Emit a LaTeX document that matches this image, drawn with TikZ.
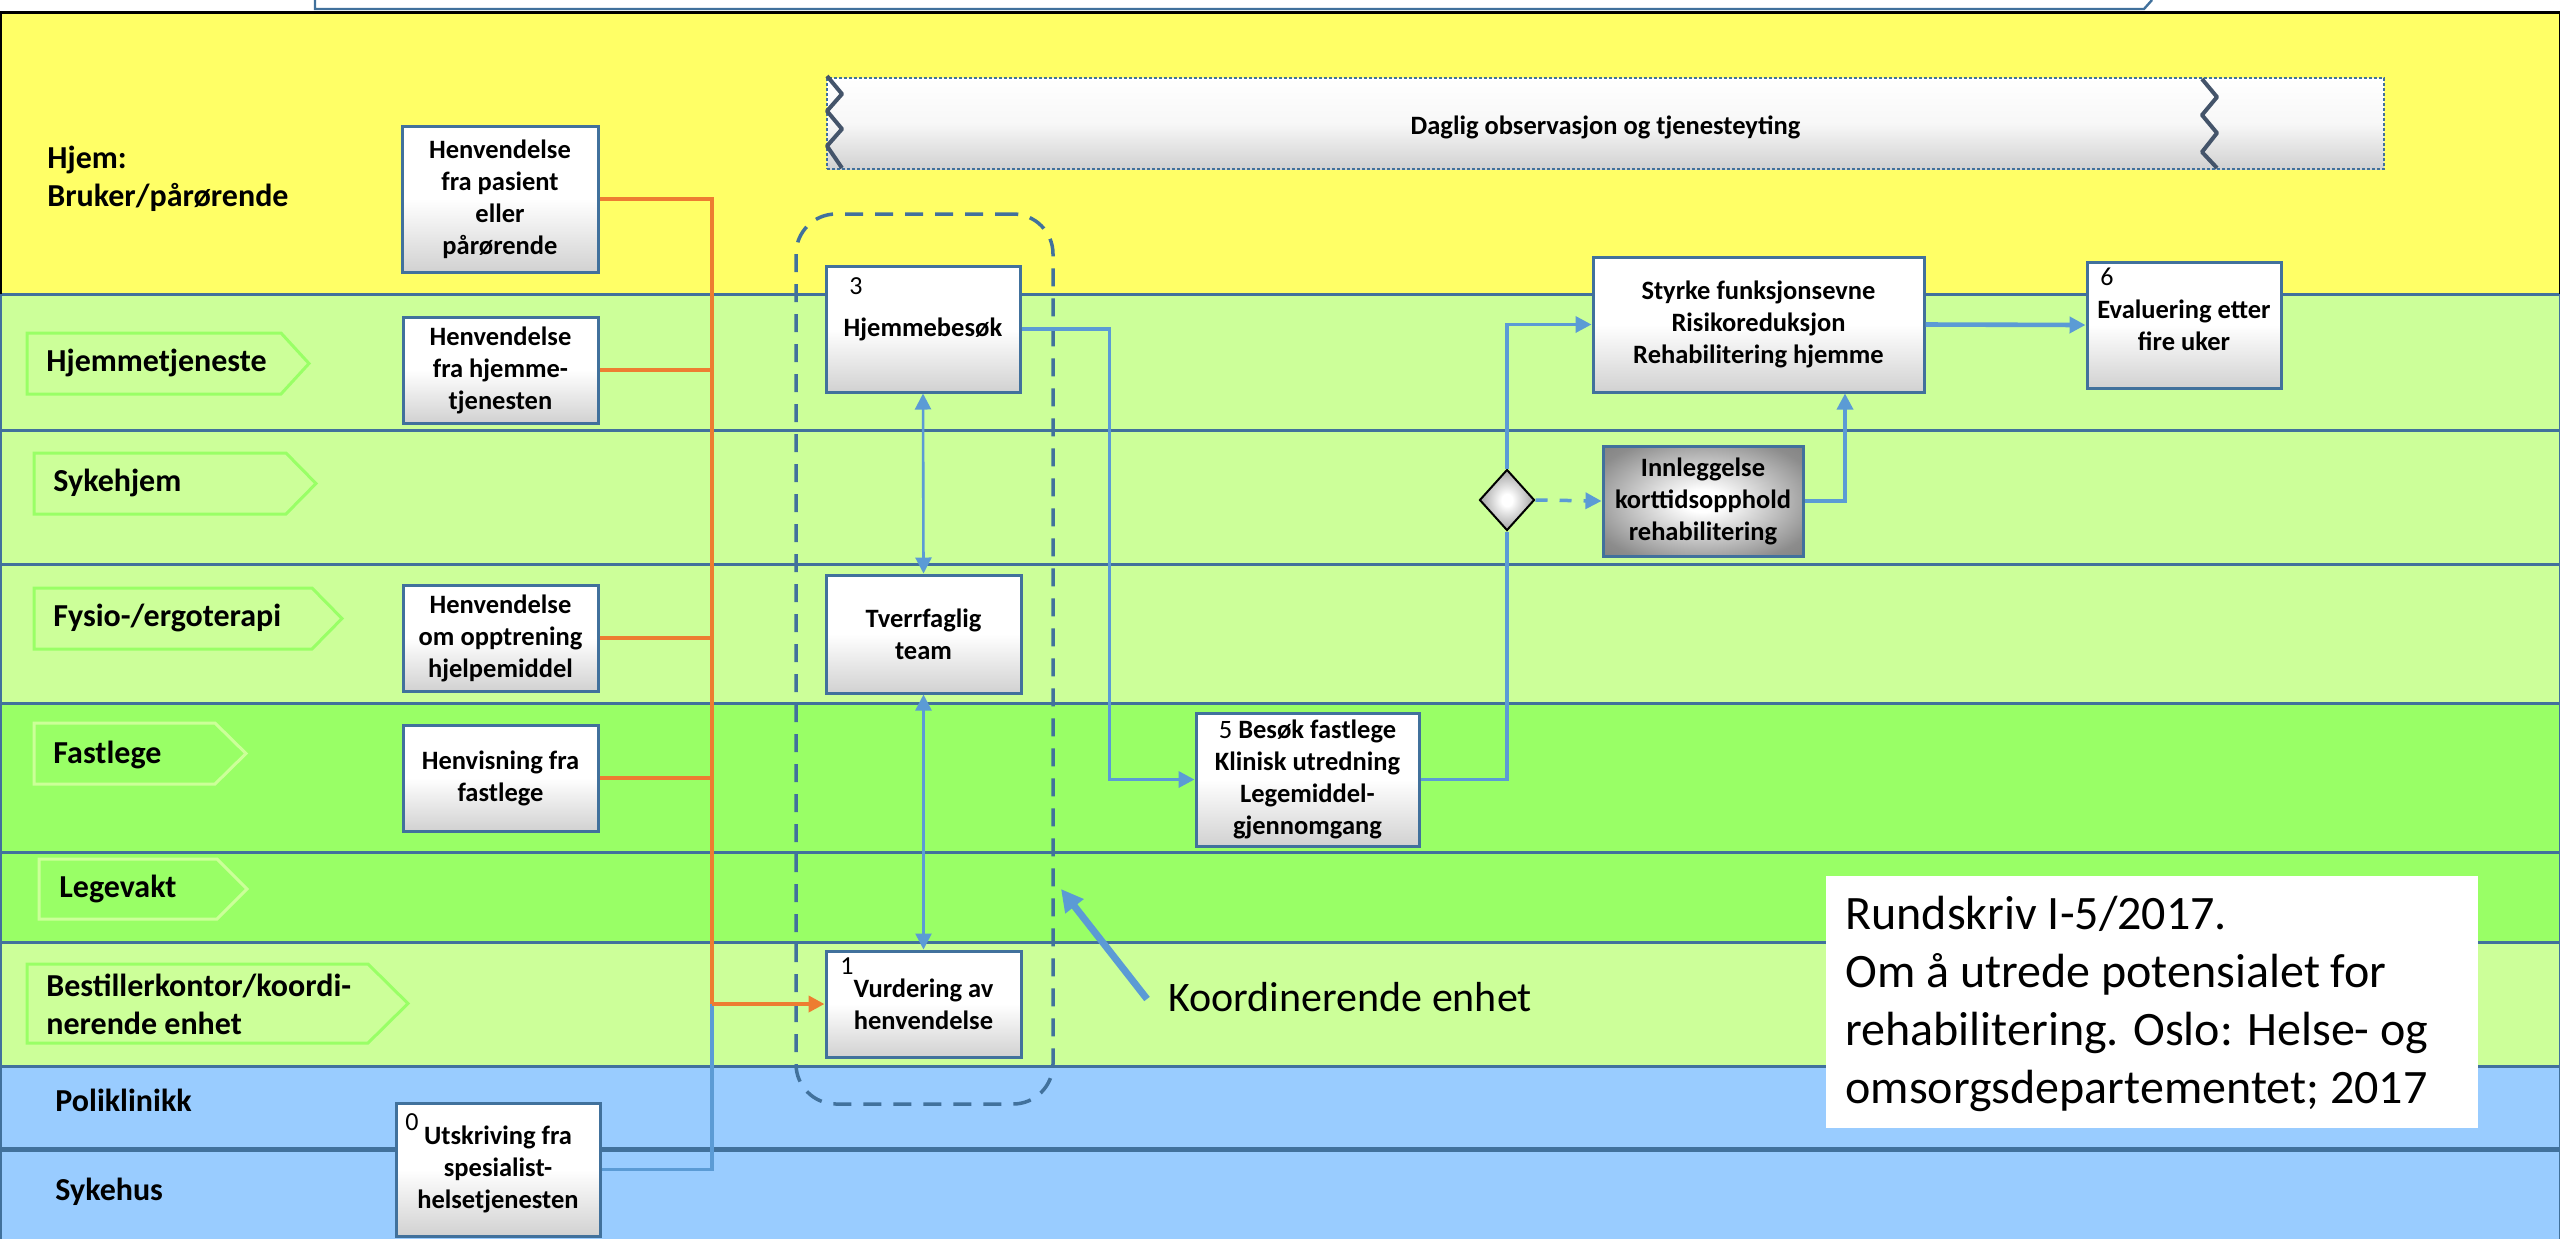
\documentclass[tikz,border=0pt]{standalone}
\usepackage{fontspec}
\setmainfont{Carlito}
\usetikzlibrary{arrows.meta,shapes.geometric}
\definecolor{cyel}{RGB}{255,255,102}
\definecolor{clgr}{RGB}{204,255,153}
\definecolor{cmgr}{RGB}{153,255,102}
\definecolor{clbl}{RGB}{153,204,255}
\definecolor{cbd}{RGB}{65,113,156}
\definecolor{corg}{RGB}{237,125,49}
\definecolor{ccon}{RGB}{91,155,213}
\definecolor{czig}{RGB}{68,84,106}
\pgfdeclareradialshading{glowsh}{\pgfpointorigin}{color(0bp)=(white); color(5bp)=(white); color(30bp)=(black!45); color(50bp)=(black!58)}
\tikzset{
  pbox/.style={draw=cbd, line width=1.5pt, top color=white, bottom color=black!18, middle color=white, inner sep=2pt, align=center, font=\fontsize{13.25}{16}\selectfont\bfseries},
  numlbl/.style={inner sep=0pt, font=\fontsize{13}{16}\selectfont},
  lanelbl/.style={inner sep=0pt, anchor=west, align=left, font=\fontsize{16}{19}\selectfont\bfseries},
  chevron/.style={line width=1.5pt},
  lanesep/.style={draw=cbd, line width=1.5pt},
  oline/.style={draw=corg, line width=2pt},
  bline/.style={draw=ccon, line width=1.75pt},
  arrowend/.style={-{Triangle[length=8pt,width=8pt]}},
}
\begin{document}
\begin{tikzpicture}[x=0.5pt,y=-0.5pt]
\useasboundingbox (0,0) rectangle (2560,1239);
% lanes
\fill[white] (0,0) rectangle (2560,12);
\fill[cyel] (0,12) rectangle (2560,294);
\fill[clgr] (0,294) rectangle (2560,703);
\fill[cmgr] (0,703) rectangle (2560,942);
\fill[clgr] (0,942) rectangle (2560,1066);
\fill[clbl] (0,1066) rectangle (2560,1239);
\foreach \yy in {294,430,564,703,852,942,1066} \draw[lanesep] (0,\yy) -- (2560,\yy);
\draw[cbd, line width=2.5pt] (0,1149) -- (2560,1149);
\draw[black, line width=1.5pt] (0,12) -- (2560,12);
\draw[black, line width=1pt] (0.5,12) -- (0.5,294) (2559.5,12) -- (2559.5,294);
\draw[cbd, line width=1pt] (0.5,294) -- (0.5,1239) (2559.5,294) -- (2559.5,1239);
\draw[cbd, line width=1.2pt] (315,0) -- (315,9) -- (2144,9) -- (2152,0);
% chevrons
\draw[chevron, draw=cmgr] (27,333) -- (281,333) -- (309,363.5) -- (281,394) -- (27,394) -- cycle;
\draw[chevron, draw=cmgr] (34,453) -- (286,453) -- (316,483.5) -- (286,514) -- (34,514) -- cycle;
\draw[chevron, draw=cmgr] (34,588) -- (312,588) -- (342,618.5) -- (312,649) -- (34,649) -- cycle;
\draw[chevron, draw=clgr] (34,723) -- (215,723) -- (246,753.5) -- (215,784) -- (34,784) -- cycle;
\draw[chevron, draw=clgr] (39,859) -- (217,859) -- (247,889) -- (217,919) -- (39,919) -- cycle;
\draw[chevron, draw=cmgr] (27,964) -- (368,964) -- (408,1003.5) -- (368,1043) -- (27,1043) -- cycle;
% lane labels
\node[lanelbl] (lhjem) at (47,179) {Hjem:\\Bruker/pårørende};
\node[lanelbl] (lhjt) at (46,363) {Hjemmetjeneste};
\node[lanelbl] (lsyk) at (53,483) {Sykehjem};
\node[lanelbl] (lfys) at (53,618) {Fysio-/ergoterapi};
\node[lanelbl] (lfast) at (53,755) {Fastlege};
\node[lanelbl] (lleg) at (59,889) {Legevakt};
\node[lanelbl] (lbest) at (46,1004) {Bestillerkontor/koordi-\\nerende enhet};
\node[lanelbl] (lpol) at (55,1100) {Poliklinikk};
\node[lanelbl] (lsh) at (55,1192) {Sykehus};
% daily observation band
\node[draw=cbd, line width=1.2pt, dash pattern=on 1.5pt off 1pt, top color=white, bottom color=black!18, middle color=white!97!black, minimum width=778.5pt, minimum height=45.5pt, inner sep=0pt, text height=10.5pt, text depth=0pt, font=\fontsize{13.25}{16}\selectfont\bfseries] (daglig) at (1605.5,123.5) {Daglig observasjon og tjenesteyting};
\draw[czig, line width=2pt, line join=round] (827,76) -- (842,94) -- (827,111) -- (842,129) -- (827,146) -- (842,168);
\draw[czig, line width=2pt, line join=round] (2202,79) -- (2217,97) -- (2202,115) -- (2217,133) -- (2202,152) -- (2217,168);
% coordinating unit group
\node[draw=cbd, line width=1.75pt, dash pattern=on 9pt off 6pt, rounded corners=20pt, minimum width=128.5pt, minimum height=445pt, inner sep=0pt] (kgroup) at (924.5,659) {};
% boxes
\node[pbox, minimum width=98pt, minimum height=73pt] (bpas) at (500,199) {Henvendelse\\fra pasient\\eller\\pårørende};
\node[pbox, minimum width=97.5pt, minimum height=53pt] (bhjt) at (500.5,370) {Henvendelse\\fra hjemme-\\tjenesten};
\node[pbox, minimum width=97.5pt, minimum height=53pt] (bfys) at (500.5,638) {Henvendelse\\om opptrening\\hjelpemiddel};
\node[pbox, minimum width=97.5pt, minimum height=53pt] (bfast) at (500.5,778) {Henvisning fra\\fastlege};
\node[pbox, minimum width=102pt, minimum height=66.5pt] (b0) at (498,1169.5) {Utskriving fra\\spesialist-\\helsetjenesten};
\node[numlbl] (n0) at (412,1122) {0};
\node[pbox, minimum width=97pt, minimum height=63pt] (b3) at (923,329) {Hjemmebesøk};
\node[numlbl] (n3) at (856,286) {3};
\node[pbox, minimum width=97.5pt, minimum height=59pt] (bt) at (923.5,634) {Tverrfaglig\\team};
\node[pbox, minimum width=97.5pt, minimum height=53pt] (b1) at (923.5,1004) {Vurdering av\\henvendelse};
\node[numlbl] (n1) at (847,966) {1};
\node[pbox, minimum width=111.5pt, minimum height=66.5pt] (b5) at (1307.5,779.5) {{\mdseries 5} Besøk fastlege\\Klinisk utredning\\Legemiddel-\\gjennomgang};
\node[pbox, minimum width=165.5pt, minimum height=67.5pt] (bs) at (1758.5,324.5) {Styrke funksjonsevne\\Risikoreduksjon\\Rehabilitering hjemme};
\node[pbox, minimum width=97pt, minimum height=63pt] (b6) at (2184,325) {Evaluering etter\\fire uker};
\node[numlbl] (n6) at (2107,277) {6};
\node[draw=cbd, line width=1.5pt, shading=glowsh, minimum width=100pt, minimum height=55pt, inner sep=2pt, align=center, font=\fontsize{13.25}{16}\selectfont\bfseries] (bi) at (1703,501) {Innleggelse\\korttidsopphold\\rehabilitering};
\node[diamond, draw=black, line width=1pt, shading=glowsh, minimum width=27.5pt, minimum height=30.5pt, inner sep=0pt] (dia) at (1507,500) {};
% connectors
\coordinate (ojoin) at (712,1004);
\draw[bline] (b0.east) -| (ojoin);
\draw[oline] (bpas.east) -| (ojoin);
\draw[oline] (bhjt.east) -- (bhjt.east -| ojoin);
\draw[oline] (bfys.east) -- (bfys.east -| ojoin);
\draw[oline] (bfast.east) -- (bfast.east -| ojoin);
\draw[oline, arrowend] (ojoin) -- (b1.west);
\draw[bline, line width=1.3pt, {Triangle[length=8pt,width=8pt]}-{Triangle[length=8pt,width=8pt]}] (b3.south) -- (bt.north);
\draw[bline, line width=1.3pt, {Triangle[length=8pt,width=8pt]}-{Triangle[length=8pt,width=8pt]}] (bt.south) -- (b1.north);
\draw[bline, arrowend] (b3.east) -- ++(88,0) |- (b5.west);
\draw[bline] (b5.east) -| (dia.south);
\draw[bline, arrowend] (dia.north) |- (bs.west);
\draw[bline, dash pattern=on 6pt off 6pt, arrowend] (dia.east) -- (bi.west);
\draw[bline, arrowend] (bi.east) -| ([xshift=43.25pt]bs.south);
\draw[bline, line width=2.3pt, arrowend] (bs.east) -- (b6.west);
% annotation
\node[inner sep=0pt, anchor=west, font=\fontsize{21}{25}\selectfont] (koord) at (1168,997) {Koordinerende enhet};
\coordinate (ktip) at (1061,889);
\draw[ccon, line width=3.5pt, -{Triangle[length=11pt,width=11pt]}] ([xshift=-10.5pt,yshift=-1pt]koord.west) -- (ktip);
\node[fill=white, inner sep=0pt, minimum width=326pt, minimum height=126pt] (ref) at (2152,1002) {};
\node[inner sep=0pt, anchor=west, align=left, font=\fontsize{24}{29}\selectfont] (reftxt) at (1845,1004) {Rundskriv I-5/2017.\\Om å utrede potensialet for\\rehabilitering. Oslo: Helse- og\\omsorgsdepartementet; 2017};
\end{tikzpicture}
\end{document}
